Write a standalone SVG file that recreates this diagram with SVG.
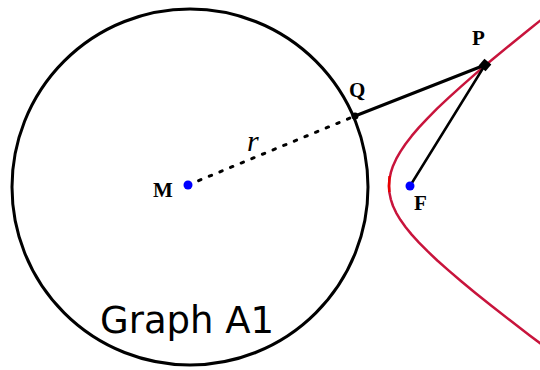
<svg xmlns="http://www.w3.org/2000/svg" width="540" height="370" viewBox="0 0 540 370">
<style>
.lbl{font-family:"Liberation Serif","Times New Roman",serif;font-weight:bold;font-size:21px;fill:#000}
.ln{stroke:#000;fill:none;stroke-linecap:round}
.blue{fill:#0000ff}
.blk{fill:#000}
</style>
<rect width="540" height="370" fill="#fff"/>
<g id="circle">
<circle cx="190" cy="187" r="178" fill="none" stroke="#000" stroke-width="3"/>
<text x="100" y="333" font-family="DejaVu Sans, Verdana, sans-serif" font-size="37" fill="#000">Graph A1</text>
</g>
<g id="hyperbola">
<polyline fill="none" stroke="#c8143c" stroke-width="2.5" stroke-linejoin="round" points="551.7,11.4 529.4,29.2 509.4,45.5 491.4,60.3 475.4,73.9 461.2,86.4 448.5,97.9 437.3,108.4 427.5,118.3 419,127.4 411.7,135.9 405.5,144 400.4,151.6 396.2,158.9 393,165.9 390.8,172.7 389.4,179.4 389,186 389.4,192.6 390.8,199.3 393,206 396.2,212.8 400.4,219.8 405.5,227 411.7,234.6 419,242.6 427.5,251.2 437.3,260.5 448.5,270.4 461.2,281.2 475.4,293 491.4,305.8 509.4,319.8 529.4,335.2 551.7,352"/>
<polyline fill="none" stroke="#e80000" stroke-width="2.5" points="389.6,176 389.2,182 389,186 389.3,192"/>
</g>
<g id="connectors">
<line class="ln" x1="188" y1="185" x2="355" y2="116" stroke-width="3" stroke-dasharray="2.5 9"/>
<line class="ln" x1="355" y1="116" x2="485" y2="65" stroke-width="3"/>
<line class="ln" x1="485" y1="65" x2="410" y2="186" stroke-width="2.5"/>
</g>
<g id="M">
<circle class="blue" cx="188" cy="185" r="4.5"/>
<text class="lbl" x="153" y="197">M</text>
</g>
<g id="F">
<circle class="blue" cx="410" cy="186" r="4.5"/>
<text class="lbl" x="414" y="210">F</text>
</g>
<g id="Q">
<circle class="blk" cx="355" cy="116" r="3.5"/>
<text class="lbl" x="349" y="97">Q</text>
</g>
<g id="P">
<rect class="blk" x="480.5" y="60.5" width="9" height="9" transform="rotate(40 485 65)"/>
<text class="lbl" x="472" y="45">P</text>
</g>
<g id="r">
<text x="247" y="151" font-family="Liberation Serif, Times New Roman, serif" font-style="italic" font-size="30" fill="#000">r</text>
</g>
</svg>
